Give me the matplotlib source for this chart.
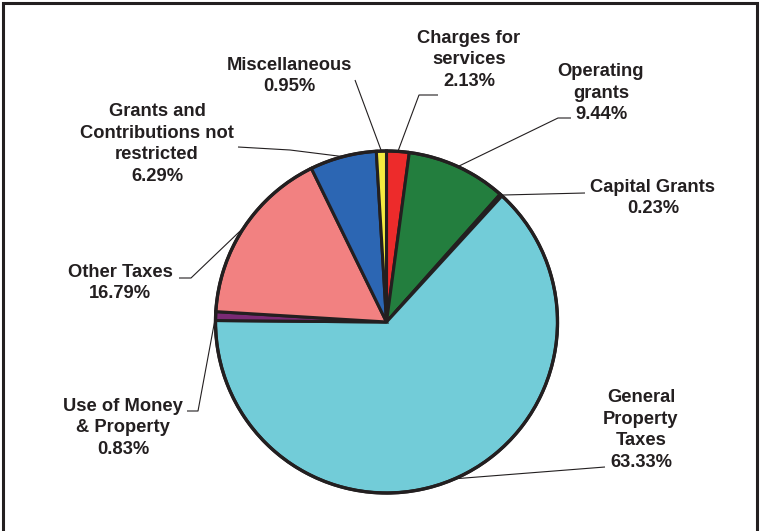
import numpy as np
import matplotlib.pyplot as plt
from matplotlib.patches import Rectangle

# Revenue sources, clockwise from the top of the pie
labels = ['Charges for\nservices', 'Operating\ngrants', 'Capital Grants',
          'General\nProperty\nTaxes', 'Use of Money\n& Property', 'Other Taxes',
          'Grants and\nContributions not\nrestricted', 'Miscellaneous']
shares = [2.13, 9.44, 0.23, 63.33, 0.83, 16.79, 6.29, 0.95]
colors = ['#ED2B2B', '#237E3E', '#231F20', '#72CCD8',
          '#7A2A74', '#F28181', '#2C66B3', '#F4EA40']

# label centre (x, y) and leader elbow in figure pixels (y measured from top)
label_pos = [(469, 60), (601, 93), (653, 198), (641, 430),
             (123, 428), (120, 283), (157, 144), (289, 76)]
elbows = [[(438, 95), (419, 95)], [(571, 118), (558, 118)], [(585, 193)],
          [(605, 467)], [(187, 411), (198, 411)], [(179, 278), (191, 278)],
          [(238, 147), (290, 150)], [(355, 80)]]

W, H = 760, 531
ink = '#231F20'

plt.rcParams['font.family'] = ['Liberation Sans', 'DejaVu Sans']

fig = plt.figure(figsize=(W / 100, H / 100), dpi=100)
ax = fig.add_axes([0, 0, 1, 1])

cx, cy, r = 386.5, H - 322, 171
wedges, _ = ax.pie(shares, colors=colors, startangle=90, counterclock=False,
                   center=(cx, cy), radius=r, frame=True,
                   wedgeprops=dict(edgecolor=ink, linewidth=2.2, joinstyle='miter'))
ax.set_xlim(0, W)
ax.set_ylim(0, H)
ax.set_aspect('equal')
ax.axis('off')

# outline around the whole pie
circle = plt.Circle((cx, cy), r, fill=False, edgecolor=ink, linewidth=2.4)
ax.add_patch(circle)

for w, lab, share, (tx, ty), elb in zip(wedges, labels, shares, label_pos, elbows):
    mid = np.deg2rad((w.theta1 + w.theta2) / 2)
    ex, ey = cx + r * np.cos(mid), cy + r * np.sin(mid)
    xs = [ex] + [p[0] for p in elb[::-1]]
    ys = [ey] + [H - p[1] for p in elb[::-1]]
    ax.plot(xs, ys, color=ink, linewidth=0.8, solid_capstyle='butt', zorder=1)
    ax.text(tx, H - ty, f'{lab}\n{share:.2f}%', ha='center', va='center',
            fontsize=13.2, fontweight='bold', color=ink, linespacing=1.36)

# chart border, bottom edge runs off the image
ax.add_patch(Rectangle((2.5, -20), 754.5, H - 2.5 + 20, fill=False,
                       edgecolor=ink, linewidth=2.2))

fig.savefig('out.png', dpi=100)
